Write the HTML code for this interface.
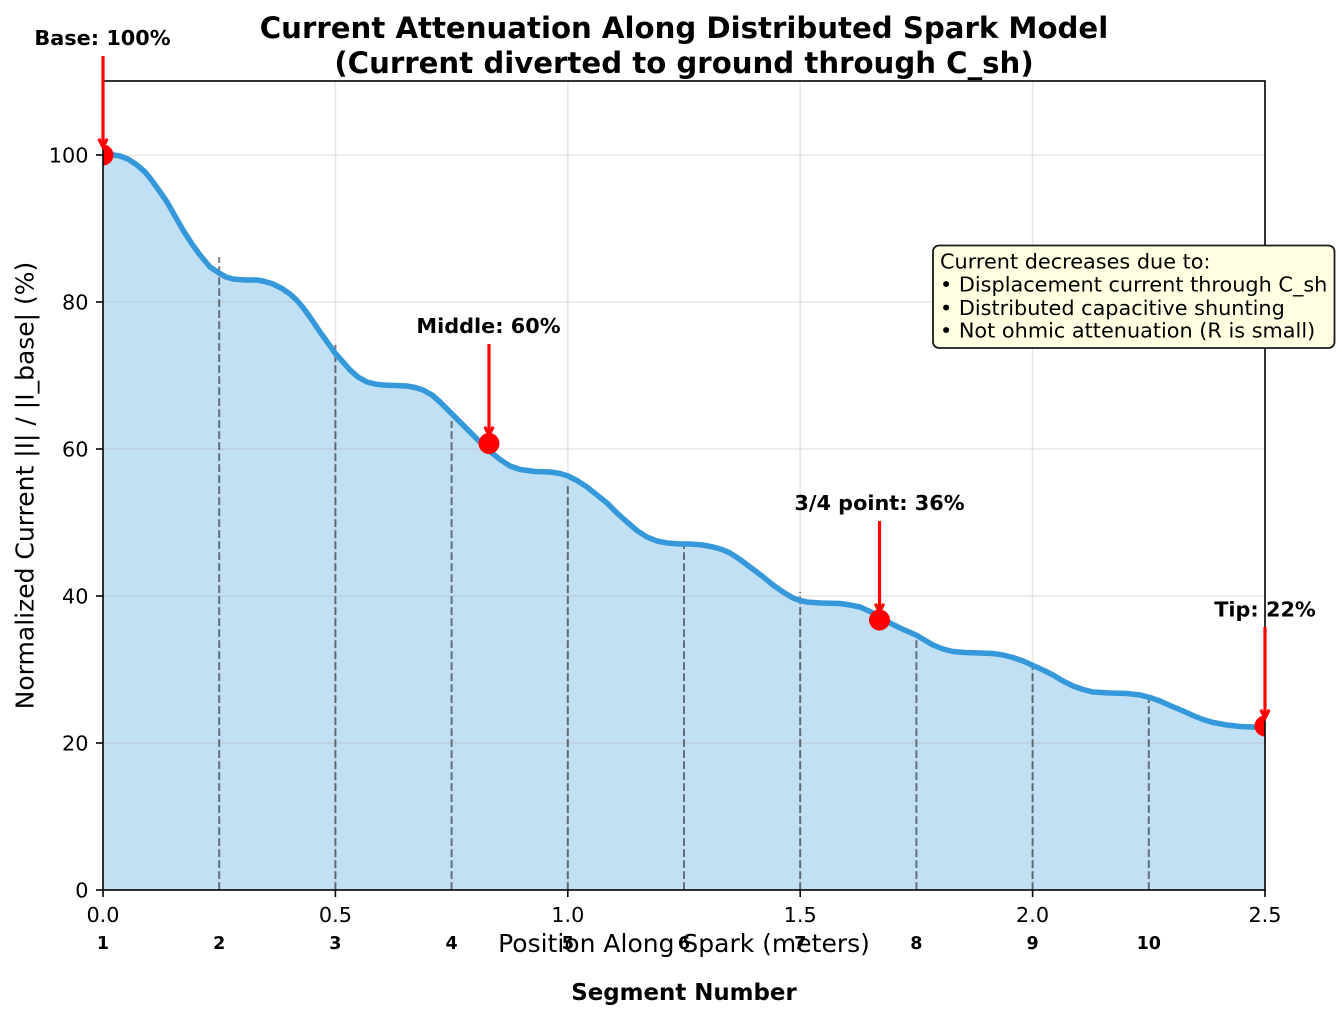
<!DOCTYPE html>
<html>
<head>
<meta charset="utf-8">
<style>
html,body{margin:0;padding:0;background:#fff;}
svg{display:block;}
text{font-family:"DejaVu Sans","Liberation Sans",sans-serif;}
</style>
</head>
<body>
<svg width="1342" height="1020" viewBox="0 0 1342 1020" xmlns="http://www.w3.org/2000/svg">
<defs>
<clipPath id="plot"><rect x="103" y="81" width="1162" height="809"/></clipPath>
</defs>
<rect x="0" y="0" width="1342" height="1020" fill="#ffffff"/>

<!-- fill -->
<polygon fill="#3498db" fill-opacity="0.3" points="103,153.5 110,154.5 120,156 128,159 137,165 145,172 150,178 158,189 167,202 175,216 183,230 192,244 200,255 210,267 219,273 226,277 233,279 245,280 257,280 265,281.5 273,284 282,288.5 290,294 297,300.5 303,307.5 312,320 320,332 328,343 335,353 343,362 350,370 358,377 367,382 375,384 383,385 395,385.5 407,386 415,387.5 423,390 432,395 440,402 447,409 453,415 463,425 473,435 481,443 489,450.5 500,459.5 510,466 520,469.5 535,471.5 550,472 560,473.5 568,476 577,480.5 587,487 597,495 607,503 617,513 627,522 637,530.5 647,537 657,541 667,543 680,544 690,544 703,545 713,547 722,549.5 730,553 740,559.5 750,567 762,576 773,585 783,592 793,598 800,600.5 807,602 820,603 840,603.5 850,605 860,607 870,611.5 880,617 890,623 900,628 916,635 933,645 943,649 953,651.5 965,652.5 980,653 993,653.5 1003,655 1013,657.5 1023,661 1033,665.5 1043,670 1053,675 1063,681 1073,686 1083,689.5 1093,692 1110,693 1127,693.5 1140,695 1150,697.5 1160,701 1170,705.5 1182,710.5 1193,715.5 1203,719.5 1213,722.5 1227,725 1240,726.5 1252,727 1265,727 1265,890 103,890"/>

<!-- grid -->
<g stroke="#b0b0b0" stroke-opacity="0.3" stroke-width="1.6">
<line x1="335.4" y1="81" x2="335.4" y2="890"/>
<line x1="567.8" y1="81" x2="567.8" y2="890"/>
<line x1="800.2" y1="81" x2="800.2" y2="890"/>
<line x1="1032.6" y1="81" x2="1032.6" y2="890"/>
<line x1="103" y1="743" x2="1265" y2="743"/>
<line x1="103" y1="596" x2="1265" y2="596"/>
<line x1="103" y1="449" x2="1265" y2="449"/>
<line x1="103" y1="302" x2="1265" y2="302"/>
<line x1="103" y1="155" x2="1265" y2="155"/>
</g>

<!-- segment dashed lines -->
<g stroke="#000" stroke-opacity="0.5" stroke-width="2" stroke-dasharray="7.7,3.3" fill="none">
<path d="M219.2,890 V257"/>
<path d="M335.4,890 V345"/>
<path d="M451.6,890 V421"/>
<path d="M567.8,890 V485"/>
<path d="M684,890 V543"/>
<path d="M800.2,890 V592"/>
<path d="M916.4,890 V633"/>
<path d="M1032.6,890 V667"/>
<path d="M1148.8,890 V698"/>
</g>

<!-- curve -->
<polyline fill="none" stroke="#3498db" stroke-width="5.5" stroke-linejoin="round" stroke-linecap="butt" points="103,153.5 110,154.5 120,156 128,159 137,165 145,172 150,178 158,189 167,202 175,216 183,230 192,244 200,255 210,267 219,273 226,277 233,279 245,280 257,280 265,281.5 273,284 282,288.5 290,294 297,300.5 303,307.5 312,320 320,332 328,343 335,353 343,362 350,370 358,377 367,382 375,384 383,385 395,385.5 407,386 415,387.5 423,390 432,395 440,402 447,409 453,415 463,425 473,435 481,443 489,450.5 500,459.5 510,466 520,469.5 535,471.5 550,472 560,473.5 568,476 577,480.5 587,487 597,495 607,503 617,513 627,522 637,530.5 647,537 657,541 667,543 680,544 690,544 703,545 713,547 722,549.5 730,553 740,559.5 750,567 762,576 773,585 783,592 793,598 800,600.5 807,602 820,603 840,603.5 850,605 860,607 870,611.5 880,617 890,623 900,628 916,635 933,645 943,649 953,651.5 965,652.5 980,653 993,653.5 1003,655 1013,657.5 1023,661 1033,665.5 1043,670 1053,675 1063,681 1073,686 1083,689.5 1093,692 1110,693 1127,693.5 1140,695 1150,697.5 1160,701 1170,705.5 1182,710.5 1193,715.5 1203,719.5 1213,722.5 1227,725 1240,726.5 1252,727 1265,727"/>

<!-- markers -->
<g clip-path="url(#plot)" fill="#ff0000">
<circle cx="103" cy="155" r="10.5"/>
<circle cx="489" cy="443.5" r="10.5"/>
<circle cx="879.5" cy="620" r="10.5"/>
<circle cx="1265" cy="726" r="10.5"/>
</g>

<!-- spines -->
<rect x="103" y="81" width="1162" height="809" fill="none" stroke="#000" stroke-width="1.6"/>

<!-- ticks -->
<g stroke="#000" stroke-width="1.6">
<line x1="96" y1="890" x2="103" y2="890"/>
<line x1="96" y1="743" x2="103" y2="743"/>
<line x1="96" y1="596" x2="103" y2="596"/>
<line x1="96" y1="449" x2="103" y2="449"/>
<line x1="96" y1="302" x2="103" y2="302"/>
<line x1="96" y1="155" x2="103" y2="155"/>
<line x1="103" y1="890" x2="103" y2="897"/>
<line x1="335.4" y1="890" x2="335.4" y2="897"/>
<line x1="567.8" y1="890" x2="567.8" y2="897"/>
<line x1="800.2" y1="890" x2="800.2" y2="897"/>
<line x1="1032.6" y1="890" x2="1032.6" y2="897"/>
<line x1="1265" y1="890" x2="1265" y2="897"/>
</g>

<!-- y tick labels -->
<g font-size="20.8" text-anchor="end" fill="#000">
<text x="88.5" y="897.5">0</text>
<text x="88.5" y="750.5">20</text>
<text x="88.5" y="603.5">40</text>
<text x="88.5" y="456.5">60</text>
<text x="88.5" y="309.5">80</text>
<text x="88.5" y="162.5">100</text>
</g>

<!-- x tick labels -->
<g font-size="20.8" text-anchor="middle" fill="#000">
<text x="103" y="922">0.0</text>
<text x="335.4" y="922">0.5</text>
<text x="567.8" y="922">1.0</text>
<text x="800.2" y="922">1.5</text>
<text x="1032.6" y="922">2.0</text>
<text x="1265" y="922">2.5</text>
</g>

<!-- x label -->
<text x="684" y="952" font-size="25" text-anchor="middle" fill="#000">Position Along Spark (meters)</text>

<!-- segment numbers -->
<g font-size="17.5" font-weight="bold" text-anchor="middle" fill="#000">
<text x="103" y="949">1</text>
<text x="219.2" y="949">2</text>
<text x="335.4" y="949">3</text>
<text x="451.6" y="949">4</text>
<text x="567.8" y="949">5</text>
<text x="684" y="949">6</text>
<text x="800.2" y="949">7</text>
<text x="916.4" y="949">8</text>
<text x="1032.6" y="949">9</text>
<text x="1148.8" y="949">10</text>
</g>
<text x="684" y="1000" font-size="22.9" font-weight="bold" text-anchor="middle" fill="#000">Segment Number</text>

<!-- y label -->
<text transform="translate(33.5,485.5) rotate(-90)" x="0" y="0" font-size="25" text-anchor="middle" fill="#000">Normalized Current |I| / |I_base| (%)</text>

<!-- title -->
<g font-size="29.2" font-weight="bold" text-anchor="middle" fill="#000">
<text x="684" y="38">Current Attenuation Along Distributed Spark Model</text>
<text x="684" y="73">(Current diverted to ground through C_sh)</text>
</g>

<!-- annotations -->
<g font-size="20.8" font-weight="bold" text-anchor="middle" fill="#000">
<text x="102.5" y="45">Base: 100%</text>
<text x="488.5" y="333">Middle: 60%</text>
<text x="879.5" y="510">3/4 point: 36%</text>
<text x="1265" y="616.5">Tip: 22%</text>
</g>
<g stroke="#ff0000" stroke-width="3.2" fill="none" stroke-linecap="butt">
<line x1="103" y1="56" x2="103" y2="147"/>
<polyline points="98.8,138.7 103,147 107.2,138.7"/>
<line x1="489" y1="344" x2="489" y2="435"/>
<polyline points="484.8,426.7 489,435 493.2,426.7"/>
<line x1="879.5" y1="521" x2="879.5" y2="612"/>
<polyline points="875.3,603.7 879.5,612 883.7,603.7"/>
<line x1="1265" y1="627" x2="1265" y2="718"/>
<polyline points="1260.8,709.7 1265,718 1269.2,709.7"/>
</g>

<!-- text box -->
<rect x="933" y="245.5" width="401.5" height="102.5" rx="6" ry="6" fill="#ffffe2" stroke="#1a1a1a" stroke-width="1.8"/>
<g font-size="20.8" fill="#000">
<text x="940" y="268.3">Current decreases due to:</text>
<text x="940" y="291.7">• Displacement current through C_sh</text>
<text x="940" y="315">• Distributed capacitive shunting</text>
<text x="940" y="337.7">• Not ohmic attenuation (R is small)</text>
</g>
</svg>
</body>
</html>
